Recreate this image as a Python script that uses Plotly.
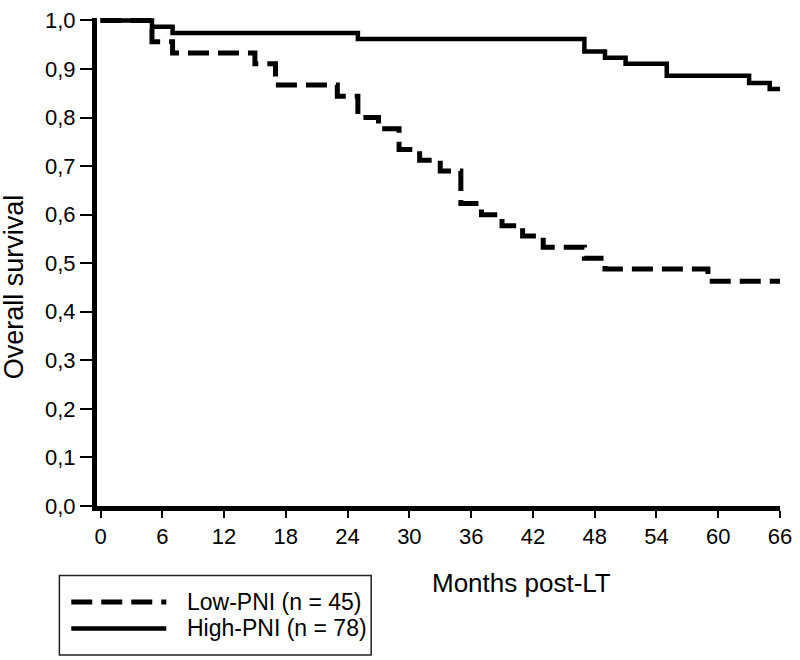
import plotly.graph_objects as go

# ---- data ----
high_months = [0, 5, 7, 25, 47, 49, 51, 55, 63, 65, 66]
high_surv = [1.0, 0.987, 0.974, 0.962, 0.936, 0.923, 0.911, 0.886, 0.871, 0.859, 0.859]

low_months = [0, 5, 7, 15, 17, 23, 25, 27, 29, 31, 33, 35, 37, 39, 41, 43, 47, 49, 59, 66]
low_surv = [1.0, 0.956, 0.933, 0.911, 0.867, 0.844, 0.800, 0.777, 0.734, 0.712,
            0.690, 0.623, 0.600, 0.577, 0.556, 0.533, 0.510, 0.488, 0.463, 0.463]

x_ticks = [0, 6, 12, 18, 24, 30, 36, 42, 48, 54, 60, 66]
y_ticks = [0.0, 0.1, 0.2, 0.3, 0.4, 0.5, 0.6, 0.7, 0.8, 0.9, 1.0]
y_ticklabels = ["0,0", "0,1", "0,2", "0,3", "0,4", "0,5", "0,6", "0,7", "0,8", "0,9", "1,0"]

series_names = ["Low-PNI (n = 45)", "High-PNI (n = 78)"]
x_title = "Months post-LT"
y_title = "Overall survival"

FONT = "Liberation Sans, Arial, sans-serif"

fig = go.Figure()
fig.add_trace(go.Scatter(x=low_months, y=low_surv, mode="lines", line_shape="hv",
                         line=dict(color="black", width=5, dash="21px,9px"),
                         name=series_names[0], showlegend=False))
fig.add_trace(go.Scatter(x=high_months, y=high_surv, mode="lines", line_shape="hv",
                         line=dict(color="black", width=4.5),
                         name=series_names[1], showlegend=False))

# plot area geometry (pixels)
L, R, T, B = 97, 13, 8, 154
W = 800 - L - R
H = 660 - T - B


def px_x(px):
    return (px - L) / W


def px_y(py):
    return (660 - B - py) / H


# custom legend box
fig.add_shape(type="rect", xref="paper", yref="paper",
              x0=px_x(59), x1=px_x(374), y0=px_y(577), y1=px_y(658),
              line=dict(color="#222", width=1.5), fillcolor="white", layer="above")
fig.add_shape(type="line", xref="paper", yref="paper",
              x0=px_x(71), x1=px_x(167), y0=px_y(604), y1=px_y(604),
              line=dict(color="black", width=5, dash="21px,9px"))
fig.add_shape(type="line", xref="paper", yref="paper",
              x0=px_x(71), x1=px_x(167), y0=px_y(631), y1=px_y(631),
              line=dict(color="black", width=4.5))
for name, py in zip(series_names, [604, 631]):
    fig.add_annotation(text=name, xref="paper", yref="paper", x=px_x(186), y=px_y(py),
                       xanchor="left", yanchor="middle", showarrow=False,
                       font=dict(family=FONT, size=23, color="black"))

# axis titles as annotations
fig.add_annotation(text=x_title, xref="paper", yref="paper", x=px_x(433), y=px_y(585),
                   xanchor="left", yanchor="middle", showarrow=False,
                   font=dict(family=FONT, size=26, color="black"))
fig.add_annotation(text=y_title, xref="paper", yref="paper", x=px_x(14), y=px_y(282),
                   xanchor="center", yanchor="middle", textangle=-90, showarrow=False,
                   font=dict(family=FONT, size=27, color="black"))

fig.update_xaxes(range=[-0.34, 66], tickvals=x_ticks, ticktext=[str(v) for v in x_ticks],
                 showline=True, linecolor="black", linewidth=5, mirror=False,
                 ticks="outside", ticklen=7, tickwidth=2, tickcolor="black",
                 showgrid=False, zeroline=False, ticklabeloverflow="allow",
                 tickfont=dict(family=FONT, size=22, color="black"))
fig.update_yaxes(range=[0, 1.005], tickvals=y_ticks, ticktext=y_ticklabels,
                 showline=True, linecolor="black", linewidth=5, mirror=False,
                 ticks="outside", ticklen=12, tickwidth=1.5, tickcolor="black",
                 showgrid=False, zeroline=False, ticklabeloverflow="allow",
                 tickfont=dict(family=FONT, size=22, color="black"))

fig.update_layout(width=800, height=660, margin=dict(l=L, r=R, t=T, b=B),
                  paper_bgcolor="white", plot_bgcolor="white",
                  font=dict(family=FONT, color="black"), showlegend=False)

fig.write_html("out.html", config={"displayModeBar": False},
               post_script="document.body.style.margin='0px';document.body.style.overflow='hidden';")
